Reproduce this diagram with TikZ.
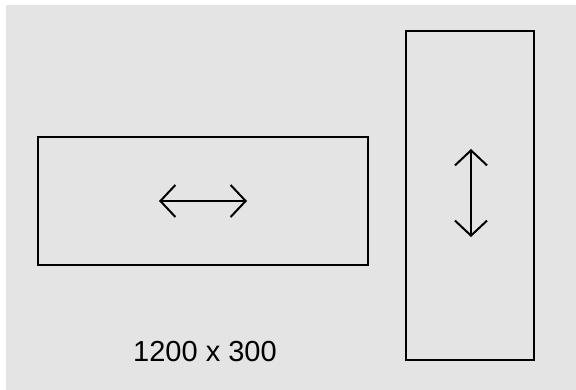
\documentclass[tikz,border=0pt]{standalone}
\usepackage{fontspec}
\setmainfont{Liberation Sans}
\usetikzlibrary{arrows.meta}
\begin{document}
\begin{tikzpicture}[x=1pt,y=1pt,
  box/.style={draw=black,line width=2pt},
  dbl/.style={line width=2pt,{Straight Barb[length=15pt,width=32pt,line width=2pt]}-{Straight Barb[length=15pt,width=32pt,line width=2pt]}}]
\useasboundingbox (0,0) rectangle (576,390);
\fill[fill={rgb,255:red,228;green,228;blue,228}] (6,0) rectangle (576,385);
\node[box,minimum width=330pt,minimum height=128pt,inner sep=0pt] (wide) at (203,189) {};
\node[box,minimum width=128pt,minimum height=329pt,inner sep=0pt] (tall) at (470,194.5) {};
\coordinate (hl) at (159,189);
\coordinate (hr) at (247,189);
\coordinate (vt) at (471,241);
\coordinate (vb) at (471,153);
\draw[dbl] (hl) -- (hr);
\draw[dbl] (vt) -- (vb);
\node[font=\fontsize{29}{34}\selectfont,inner sep=0pt] (lbl) at (205,38) {1200 x 300};
\end{tikzpicture}
\end{document}
